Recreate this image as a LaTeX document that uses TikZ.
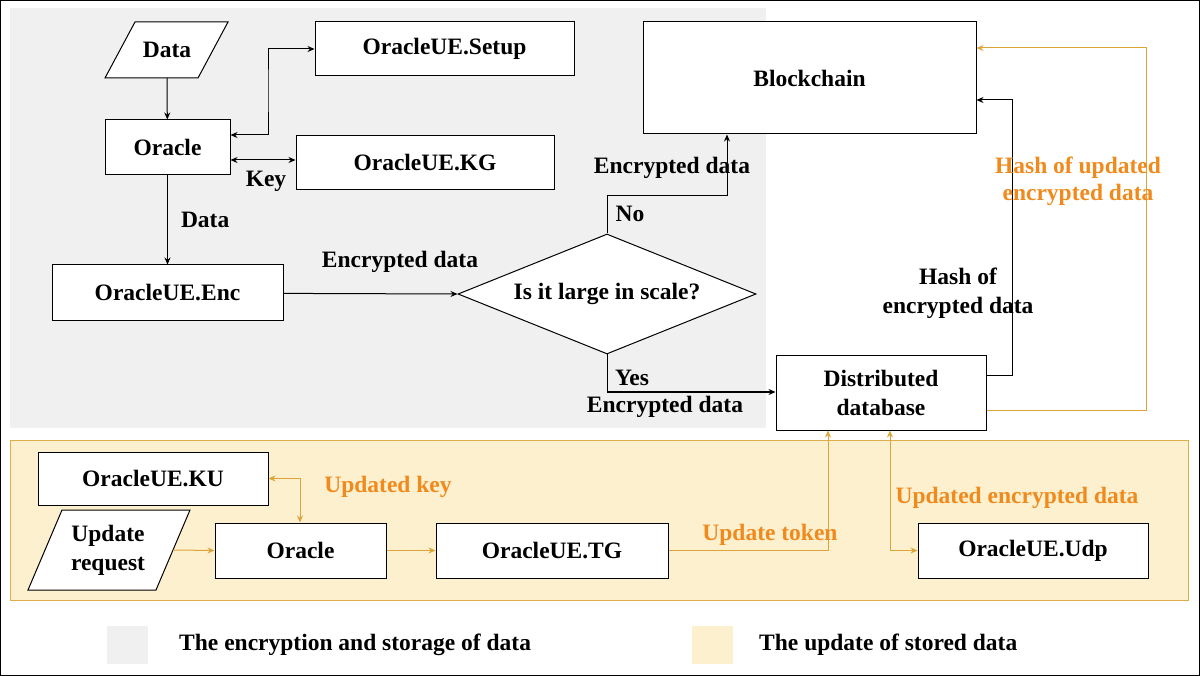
\documentclass[tikz,border=0pt]{standalone}
\usepackage{fontspec}
\setmainfont{Liberation Serif}
\usetikzlibrary{shapes.geometric,arrows.meta}
\definecolor{gy}{HTML}{F0F0F0}
\definecolor{yl}{HTML}{FDF0CF}
\definecolor{yb}{HTML}{DDAE4A}
\definecolor{ot}{HTML}{F08A1C}
\definecolor{ol}{HTML}{DCA53A}
\begin{document}
\begin{tikzpicture}[x=1pt,y=-1pt,
 every node/.style={font=\fontsize{23.5}{27}\selectfont\bfseries},
 box/.style={draw,fill=white,line width=1pt,minimum width=#1,minimum height=54pt,inner sep=0pt},
 lab/.style={inner sep=1pt},
 ar/.style={line width=1pt,-{Stealth[length=7pt,width=6pt]}},
 dar/.style={line width=1pt,{Stealth[length=7pt,width=6pt]}-{Stealth[length=7pt,width=6pt]}},
 oar/.style={ar,draw=ol},odar/.style={dar,draw=ol},
 olab/.style={lab,text=ot}]
\useasboundingbox (0,0) rectangle (1200,676);
\draw[line width=1pt] (0.5,0.5) rectangle (1199.5,675.5);
\fill[gy] (10,8) rectangle (766,428);
\fill[yl,draw=yb] (10,440) rectangle (1188,600);
\fill[gy] (107,626) rectangle (148,664);
\fill[yl] (692,626) rectangle (733,664);
\node[lab,anchor=west] (l1) at (178,645) {The encryption and storage of data};
\node[lab,anchor=west] (l2) at (758,645) {The update of stored data};

\draw[fill=white,line width=1pt] (105,78) -- (135,22) -- (228,22) -- (198,78) -- cycle;
\node (data) at (167,50) {Data};
\coordinate (datab) at (167,78);
\draw[fill=white,line width=1pt] (28,590) -- (62,510) -- (190,510) -- (156,590) -- cycle;
\node[align=center,font=\fontsize{23.5}{29}\selectfont\bfseries] (ur) at (108,550) {Update\\request};
\coordinate (urr) at (173,550);

\node[box=259pt] (setup) at (444.5,49) {OracleUE.Setup};
\node[box=125pt,minimum height=55pt] (oracle) at (167.5,147.5) {Oracle};
\node[box=258pt] (kg) at (425,162.5) {OracleUE.KG};
\node[box=231pt,minimum height=56pt] (enc) at (167.5,293) {OracleUE.Enc};
\node[draw,fill=white,line width=1pt,diamond,aspect=2.48,minimum width=298pt,minimum height=120pt,inner sep=0pt] (dia) at (607,294) {Is it large in scale?};
\node[box=333pt,minimum height=112pt] (bc) at (809.5,78) {Blockchain};
\node[box=210pt,minimum height=74pt,align=center,font=\fontsize{23.5}{29}\selectfont\bfseries] (db) at (881,393) {Distributed\\database};
\node[box=230pt,minimum height=53pt] (ku) at (153,478.5) {OracleUE.KU};
\node[box=171pt,minimum height=55pt] (or2) at (300.5,550.5) {Oracle};
\node[box=232pt,minimum height=55pt] (tg) at (552,550.5) {OracleUE.TG};
\node[box=230pt,minimum height=55pt] (udp) at (1033,550.5) {OracleUE.Udp};

\draw[ar] (datab) -- (oracle);
\draw[dar] (oracle.east|-0,135) -| (268,90) |- (setup.west);
\draw[dar] (oracle.east|-0,160) -- (kg.west|-0,160);
\node[lab] (key) at (266,181) {Key};
\draw[ar] (oracle) -- (enc) node[lab,midway,right=12pt] {Data};
\draw[ar] (enc) -- (dia.west);
\node[lab] (e1) at (400,262) {Encrypted data};
\draw[ar] (dia.north) |- (727,196) -- (bc.south-|727,0);
\node[lab] (no) at (630,214) {No};
\node[lab] (e2) at (672,168) {Encrypted data};
\draw[ar] (dia.south) |- (db.west|-0,392);
\node[lab] (yes) at (632,378) {Yes};
\node[lab] (e3) at (665,407) {Encrypted data};
\draw[ar] (db.east|-0,376) -| (1012,100) -- (bc.east|-0,100);
\node[lab,align=center,font=\fontsize{23.5}{29}\selectfont\bfseries] (h1) at (958,293) {Hash of\\encrypted data};
\draw[oar] (db.east|-0,410) -| (1146,48) -- (bc.east|-0,48);
\node[olab,align=center,font=\fontsize{23.5}{27}\selectfont\bfseries] (h2) at (1078,181) {Hash of updated\\encrypted data};
\draw[odar] (ku.east) -| (or2.north-|300,0);
\node[olab] (uk) at (388,487) {Updated key};
\draw[oar] (urr) -- (or2.west);
\draw[oar] (or2) -- (tg);
\draw[oar] (tg.east) -| (db.south-|828,0);
\node[olab] (ut) at (770,535) {Update token};
\draw[odar] (db.south-|890,0) |- (udp.west);
\node[olab] (ue) at (1017,498) {Updated encrypted data};
\end{tikzpicture}
\end{document}
